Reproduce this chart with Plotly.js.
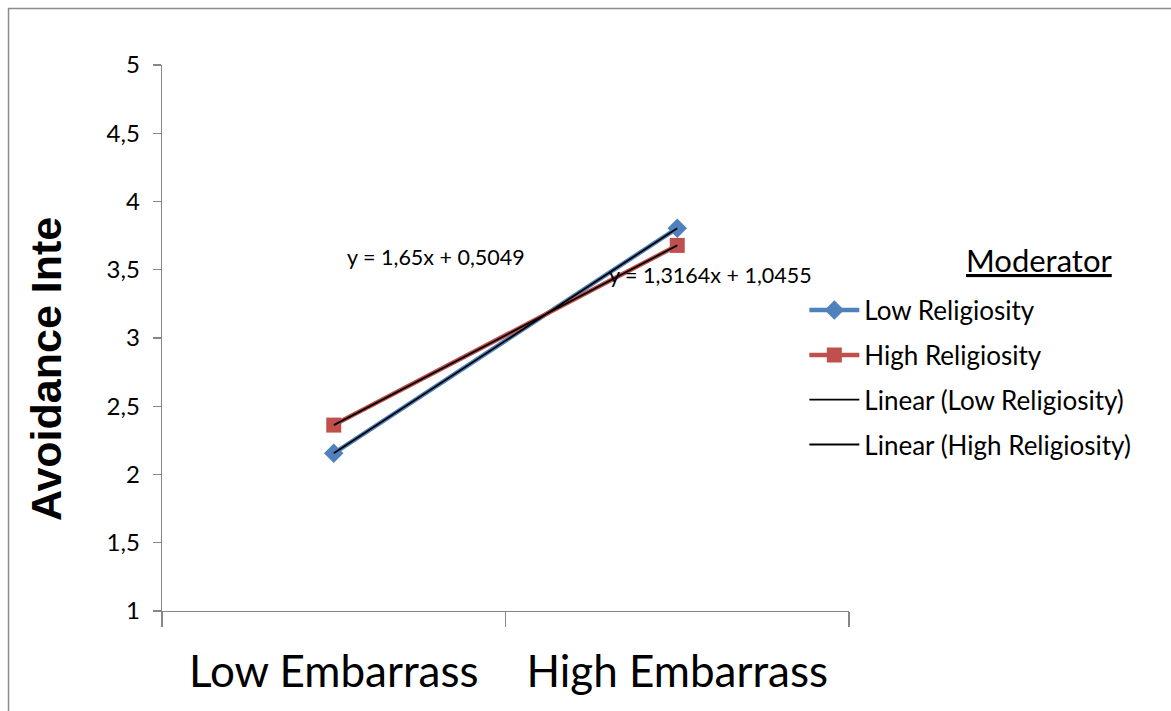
<!DOCTYPE html>
<html>
<head>
<meta charset="utf-8">
<script src="https://cdn.plot.ly/plotly-3.0.1.min.js"></script>
<style>
  html, body { margin: 0; padding: 0; background: #ffffff; }
  #chart { width: 1171px; height: 711px; }
</style>
</head>
<body>
<div id="chart"></div>
<script>
// Category labels on the x axis
const categories = ['Low Embarrass', 'High Embarrass'];

// Mean avoidance intention per condition
const lowReligiosity = [2.1549, 3.8049];
const highReligiosity = [2.3619, 3.6783];

// Linear trendline coefficients (y = slope * x + intercept, x = 1, 2)
const trendSlopes = [1.65, 1.3164];
const trendIntercepts = [0.5049, 1.0455];

const seriesNames = ['Low Religiosity', 'High Religiosity'];
const trendNames = ['Linear (Low Religiosity)', 'Linear (High Religiosity)'];

const BASE_FONT = 'Lato, "Liberation Sans", sans-serif';

function trendValues(i) {
  return categories.map((_, k) => trendSlopes[i] * (k + 1) + trendIntercepts[i]);
}
function fmt(v) {
  return String(v).replace('.', ',');
}
function equationText(i) {
  return 'y = ' + fmt(trendSlopes[i]) + 'x + ' + fmt(trendIntercepts[i]);
}

const traces = [
  {
    x: categories, y: lowReligiosity, name: seriesNames[0],
    type: 'scatter', mode: 'lines+markers', legendgroup: 'a',
    line: { color: '#4F81BD', width: 4.5 },
    marker: { symbol: 'diamond', size: 15, color: '#4F81BD' }
  },
  {
    x: categories, y: highReligiosity, name: seriesNames[1],
    type: 'scatter', mode: 'lines+markers', legendgroup: 'b',
    line: { color: '#C0504D', width: 4.5 },
    marker: { symbol: 'square', size: 15, color: '#C0504D' }
  },
  {
    x: categories, y: trendValues(0), name: trendNames[0],
    type: 'scatter', mode: 'lines', legendgroup: 'c',
    line: { color: '#000000', width: 1.8 }
  },
  {
    x: categories, y: trendValues(1), name: trendNames[1],
    type: 'scatter', mode: 'lines', legendgroup: 'd',
    line: { color: '#000000', width: 1.8 }
  }
];

const axisGray = '#868686';

const layout = {
  width: 1171, height: 711,
  margin: { l: 162, r: 322, t: 65, b: 100 },
  paper_bgcolor: '#ffffff', plot_bgcolor: '#ffffff',
  separators: ',.',
  font: { family: BASE_FONT, color: '#000000' },
  showlegend: true,
  xaxis: {
    type: 'category', range: [-0.5, 1.5],
    tickson: 'boundaries', ticks: 'outside', ticklen: 15, tickwidth: 1.3,
    tickcolor: axisGray, showline: true, linecolor: axisGray, linewidth: 1.3,
    showgrid: false, zeroline: false, ticklabelstandoff: 22,
    tickfont: { family: BASE_FONT, size: 44, color: '#000000' }
  },
  yaxis: {
    range: [1, 5], dtick: 0.5, tick0: 1,
    ticks: 'outside', ticklen: 8, tickwidth: 1.3, tickcolor: axisGray,
    showline: true, linecolor: axisGray, linewidth: 1.3,
    showgrid: false, zeroline: false, ticklabelstandoff: 8,
    tickfont: { family: BASE_FONT, size: 24, color: '#000000' }
  },
  legend: {
    x: 0.935, xanchor: 'left', y: 0.594, yanchor: 'top',
    bgcolor: 'rgba(0,0,0,0)', borderwidth: 0,
    itemwidth: 50, traceorder: 'grouped', tracegroupgap: 8,
    font: { family: BASE_FONT, size: 26, color: '#000000' }
  },
  annotations: [
    {
      xref: 'paper', yref: 'paper', x: -0.169, y: 0.443,
      xanchor: 'center', yanchor: 'middle',
      text: '<b>Avoidance Inte</b>', textangle: -90, showarrow: false,
      font: { family: '"Liberation Sans", Arial, sans-serif', size: 43, color: '#000000' }
    },
    {
      xref: 'paper', yref: 'paper', x: 1.277, y: 0.643,
      xanchor: 'center', yanchor: 'middle',
      text: '<u>Moderator</u>', showarrow: false,
      font: { family: BASE_FONT, size: 31, color: '#000000' }
    },
    {
      xref: 'paper', yref: 'paper', x: 0.266, y: 0.648,
      xanchor: 'left', yanchor: 'middle',
      text: equationText(0), showarrow: false,
      font: { family: BASE_FONT, size: 21.5, color: '#000000' }
    },
    {
      xref: 'paper', yref: 'paper', x: 0.648, y: 0.615,
      xanchor: 'left', yanchor: 'middle',
      text: equationText(1), showarrow: false,
      font: { family: BASE_FONT, size: 21.5, color: '#000000' }
    }
  ],
  shapes: [
    {
      type: 'rect', xref: 'paper', yref: 'paper',
      x0: -0.2234, x1: 1.6, y0: -0.5, y1: 1.1035,
      line: { color: '#8c8c8c', width: 1.5 }, fillcolor: 'rgba(0,0,0,0)'
    }
  ]
};

Plotly.newPlot('chart', traces, layout, { displayModeBar: false, staticPlot: true });
</script>
</body>
</html>
